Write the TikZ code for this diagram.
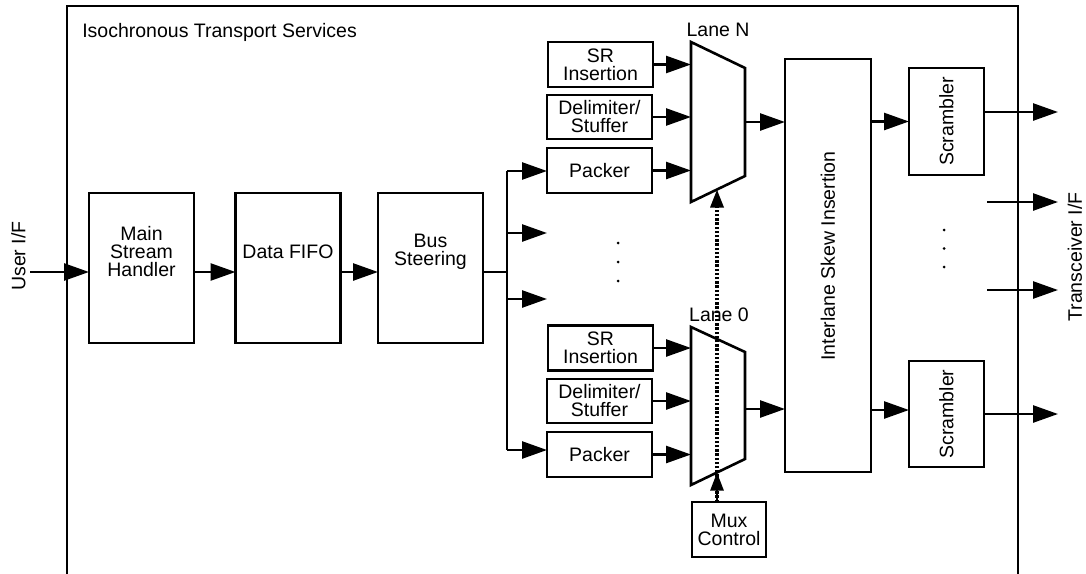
\documentclass[tikz,border=0pt]{standalone}
\usepackage{fontspec}
\setmainfont{Liberation Sans}
\usetikzlibrary{arrows.meta}

\begin{document}
\begin{tikzpicture}[x=0.5pt,y=-0.5pt,line width=1.3pt,
        font=\fontsize{9.75}{9}\selectfont,
        blk/.style={draw,inner sep=0pt,outer sep=0pt,align=center},
        txt/.style={inner sep=0pt,align=center},
        arr/.style={-{Triangle[length=12.5pt,width=8.5pt]}},
        sarr/.style={-{Triangle[length=9pt,width=6.5pt]}}]
    \useasboundingbox (0,0) rectangle (1086,573);
    \draw (67,580) -- (67,6) -- (1018,6) -- (1018,580);
    \node[txt,anchor=base west] (title) at (81,37) {Isochronous Transport Services};
    % input side
    \node[txt,rotate=90] (usr-t) at (18.5,256) {User I/F};
    \coordinate (usr) at (30,272);
    \node[blk,minimum width=52.5pt,minimum height=75pt] (msh) at (141.5,268) {};
    \node[txt] (msh-t) at (141.5,252) {Main\\Stream\\Handler};
    \node[blk,minimum width=52.5pt,minimum height=75pt] (fifo) at (288,268) {};
    \node[txt] (fifo-t) at (288,252) {Data FIFO};
    \node[blk,minimum width=52.5pt,minimum height=75pt] (bs) at (430.5,268) {};
    \node[txt] (bs-t) at (430.5,252) {Bus\\Steering};
    \draw[arr] (usr) -- (usr -| msh.west);
    \draw[arr] (msh.east |- usr) -- (fifo.west |- usr);
    \draw[arr] (fifo.east |- usr) -- (bs.west |- usr);
    % bus
    \coordinate (busT) at (507,171);
    \coordinate (busB) at (507,450);
    \draw (bs.east |- usr) -- (usr -| busT);
    \draw (busT) -- (busB);
    % lane N
    \node[blk,minimum width=52.5pt,minimum height=22.5pt] (srN) at (600.5,64.5) {SR\\Insertion};
    \node[blk,minimum width=52.5pt,minimum height=22pt] (dsN) at (599.5,117) {Delimiter/\\Stuffer};
    \node[blk,minimum width=52.5pt,minimum height=22.5pt] (pkN) at (599.5,170.5) {Packer};
    \draw (691,42) coordinate (muxN) -- (745,68) -- (745,176) -- (691,202) -- cycle;
    \coordinate (muxN-out) at (745,122);
    \coordinate (muxN-ctl) at (717,189.5);
    \node[txt,anchor=base] (laneN) at (718,36) {Lane N};
    % lane 0
    \node[blk,minimum width=52.5pt,minimum height=22.5pt] (sr0) at (600.5,348) {SR\\Insertion};
    \node[blk,minimum width=52.5pt,minimum height=22pt] (ds0) at (599.5,401) {Delimiter/\\Stuffer};
    \node[blk,minimum width=52.5pt,minimum height=22.5pt] (pk0) at (599.5,454.5) {Packer};
    \draw (691,327) coordinate (mux0) -- (745,352) -- (745,459) -- (691,485) -- cycle;
    \coordinate (mux0-out) at (745,409);
    \coordinate (mux0-ctl) at (717,472.5);
    \node[txt,anchor=base] (lane0) at (719,321) {Lane 0};
    % bus to lanes
    \draw[arr] (busT) -- (busT -| pkN.west);
    \draw[arr] (507,233) -- ++(40,0);
    \draw[arr] (507,299) -- ++(40,0);
    \draw[arr] (busB) -- (busB -| pk0.west);
    \fill (618,243) circle[radius=0.75pt] (618,262) circle[radius=0.75pt] (618,281) circle[radius=0.75pt];
    \draw[arr] (srN.east) -- (srN.east -| muxN);
    \draw[arr] (dsN.east) -- (dsN.east -| muxN);
    \draw[arr] (pkN.east) -- (pkN.east -| muxN);
    \draw[arr] (sr0.east) -- (sr0.east -| mux0);
    \draw[arr] (ds0.east) -- (ds0.east -| mux0);
    \draw[arr] (pk0.east) -- (pk0.east -| mux0);
    % mux control
    \node[blk,minimum width=37pt,minimum height=27.5pt] (mctl) at (729,529.5) {Mux\\Control};
    \draw[sarr] (mctl.north -| mux0-ctl) -- (mux0-ctl);
    \draw[sarr,line width=1.6pt,dash pattern=on 1.2pt off 0.9pt] (mctl.north -| muxN-ctl) -- (muxN-ctl);
    % skew and scramblers
    \node[blk,minimum width=43pt,minimum height=206.5pt] (isi) at (828,265.5) {};
    \node[txt,rotate=90] (isi-t) at (828,256) {Interlane Skew Insertion};
    \draw[arr] (muxN-out) -- (muxN-out -| isi.west);
    \draw[arr] (mux0-out) -- (mux0-out -| isi.west);
    \node[blk,minimum width=37.5pt,minimum height=53.5pt] (scrN) at (946.5,121.5) {};
    \node[txt,rotate=90] (scrN-t) at (946.5,121.5) {Scrambler};
    \node[blk,minimum width=37.5pt,minimum height=53pt] (scr0) at (946.5,414) {};
    \node[txt,rotate=90] (scr0-t) at (946.5,414) {Scrambler};
    \draw[arr] (isi.east |- scrN.west) -- (scrN.west);
    \draw[arr] (isi.east |- 0,410) -- (scr0.west |- 0,410);
    % outputs
    \draw[arr] (scrN.east |- 0,112) -- ++(74,0);
    \draw[arr] (scr0.east) -- ++(74,0);
    \draw[arr] (987,202) -- ++(71,0);
    \draw[arr] (987,290) -- ++(71,0);
    \fill (944,230) circle[radius=0.75pt] (944,248.5) circle[radius=0.75pt] (944,267) circle[radius=0.75pt];
    \node[txt,rotate=90] (trx-t) at (1075,257) {Transceiver I/F};
\end{tikzpicture}
\end{document}
